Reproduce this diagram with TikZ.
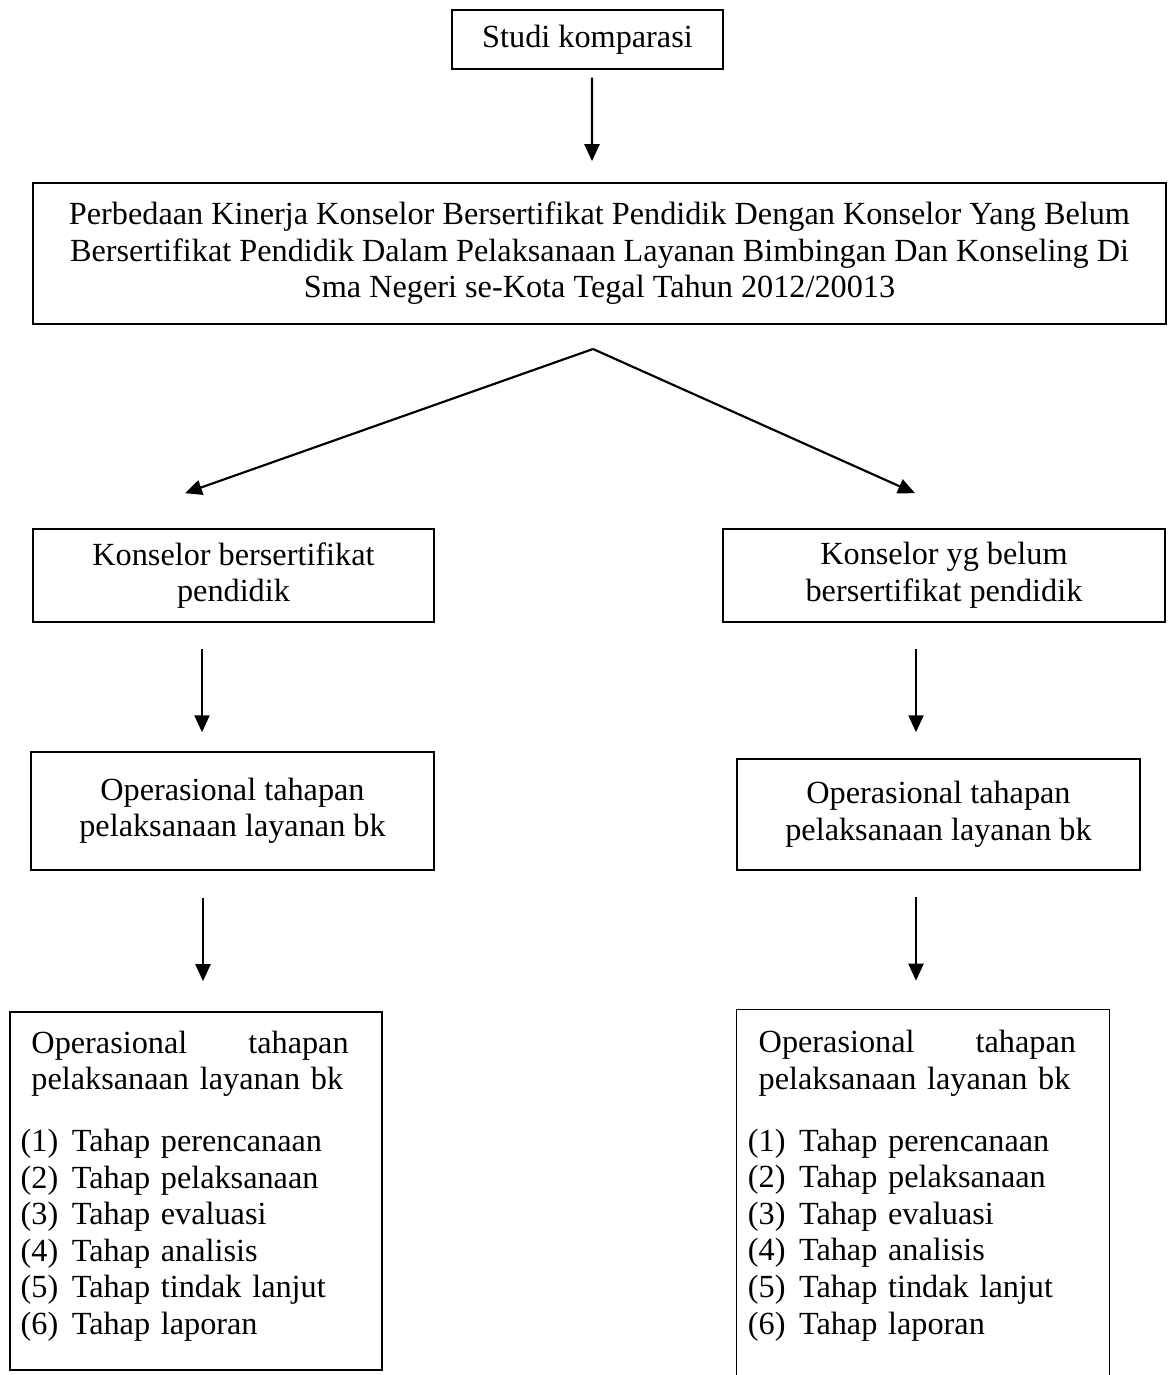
\documentclass[tikz,border=0pt]{standalone}
\usepackage{fontspec}
\setmainfont{Liberation Serif}
\usetikzlibrary{arrows.meta}
\newcommand{\isitahap}{%
  \hspace*{4pt}\makebox[118pt][l]{Operasional\hfill tahapan}\\
  \hspace*{4pt}pelaksanaan layanan bk\\[9.5pt]
  \makebox[19pt][l]{(1)}Tahap perencanaan\\
  \makebox[19pt][l]{(2)}Tahap pelaksanaan\\
  \makebox[19pt][l]{(3)}Tahap evaluasi\\
  \makebox[19pt][l]{(4)}Tahap analisis\\
  \makebox[19pt][l]{(5)}Tahap tindak lanjut\\
  \makebox[19pt][l]{(6)}Tahap laporan}
\begin{document}
\begin{tikzpicture}[x=0.372pt, y=-0.372pt,
		every node/.style={font=\fontsize{12pt}{13.6pt}\selectfont},
		box/.style={draw, line width=0.6pt, align=center, inner sep=0pt},
		isi/.style={anchor=north west, align=left, inner sep=0pt, text width=131pt},
		arr/.style={line width=0.8pt, -{Triangle[length=6.3pt,width=5.6pt]}}]
		\useasboundingbox (0,0) rectangle (1167,1375);
		% judul
		\node[box, minimum width=100.8pt, minimum height=21.9pt] (studi) at (587.5,39.5) {Studi komparasi};
		\node[box, minimum width=421.5pt, minimum height=52.5pt] (judul) at (599.5,253.5)
			{Perbedaan Kinerja Konselor Bersertifikat Pendidik Dengan Konselor Yang Belum\\
			 Bersertifikat Pendidik Dalam Pelaksanaan Layanan Bimbingan Dan Konseling Di\\
			 Sma Negeri se-Kota Tegal Tahun 2012/20013};
		\coordinate (cabang) at (593,349);
		% dua kelompok konselor
		\node[box, minimum width=149.2pt, minimum height=34.6pt] (kons1) at (233.5,575.5) {Konselor bersertifikat\\pendidik};
		\node[box, minimum width=164.4pt, minimum height=34.6pt] (kons2) at (944,575.5) {Konselor yg belum\\bersertifikat pendidik};
		\node[box, minimum width=149.9pt, minimum height=43.9pt] (oper1) at (232.5,811) {Operasional tahapan\\pelaksanaan layanan bk};
		\node[box, minimum width=149.9pt, minimum height=41.3pt] (oper2) at (938.5,814.5) {Operasional tahapan\\pelaksanaan layanan bk};
		% kotak tahapan
		\node[box, minimum width=138.4pt, minimum height=133.2pt] (tahap1) at (196,1191) {};
		\node[isi] (isi1) at ([shift={(11,19)}]tahap1.north west) {\isitahap};
		\node[inner sep=0pt, minimum width=138.4pt, minimum height=136pt] (tahap2) at (923,1193) {};
		\draw[line width=0.6pt] (tahap2.south west) -- (tahap2.north west) -- (tahap2.north east) -- (tahap2.south east);
		\node[isi] (isi2) at ([shift={(11,20)}]tahap2.north west) {\isitahap};
		% panah
		\draw[arr] ([shift={(4.5,8)}]studi.south) -- ([shift={(-7.5,-21)}]judul.north);
		\draw[arr] (cabang) -- ([shift={(-48.5,-35)}]kons1.north);
		\draw[arr] (cabang) -- ([shift={(-29,-35)}]kons2.north);
		\draw[arr] ([shift={(-31.5,26)}]kons1.south) -- ([shift={(-30.5,-19)}]oper1.north);
		\draw[arr] ([shift={(-28,26)}]kons2.south) -- ([shift={(-22.5,-26)}]oper2.north);
		\draw[arr] ([shift={(-29.5,27)}]oper1.south) -- ([shift={(7,-30)}]tahap1.north);
		\draw[arr] ([shift={(-22.5,26)}]oper2.south) -- ([shift={(-7,-29)}]tahap2.north);
	\end{tikzpicture}
\end{document}
